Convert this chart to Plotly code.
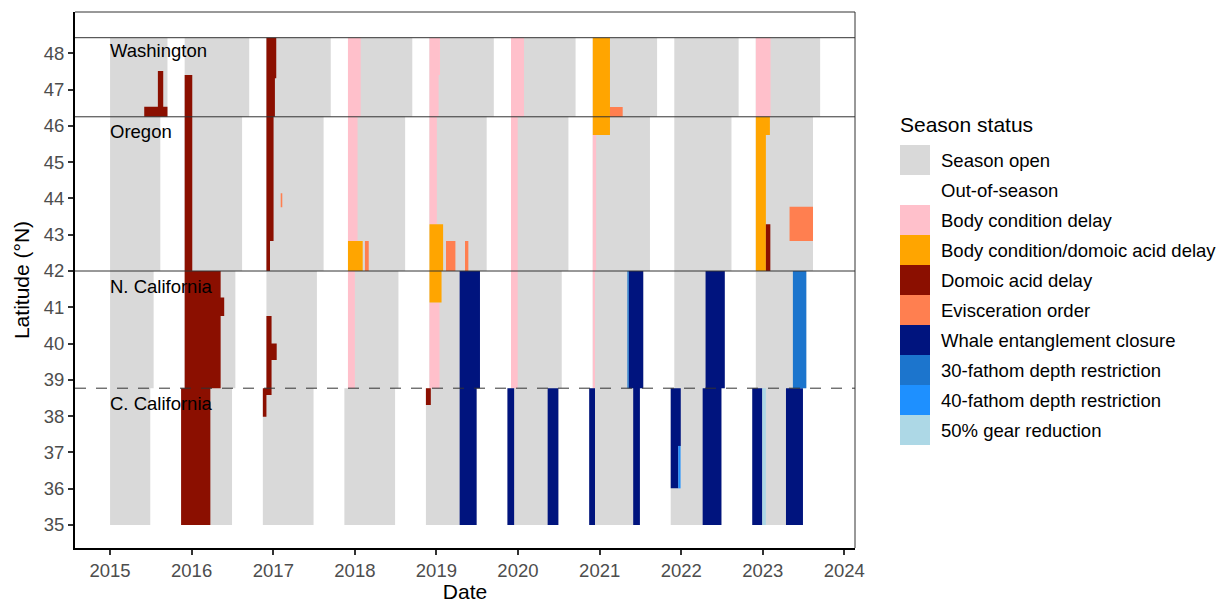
import plotly.graph_objects as go

FONT = "Liberation Sans, Arial, Helvetica, sans-serif"

# Management regions (latitude bounds, °N)
regions = ["Washington", "Oregon", "N. California", "C. California"]
region_lat_lo = [46.25, 42.0, 38.77, 35.0]
region_lat_hi = [48.43, 46.25, 42.0, 38.77]
region_label_lat = [48.09, 45.84, 41.58, 38.36]

# Open-season windows for each region
wa_open_start = ["2015-01-01", "2015-12-01", "2016-12-01", "2017-12-01", "2018-12-01",
                 "2019-12-01", "2020-12-01", "2021-12-01", "2022-12-01"]
wa_open_end = ["2015-09-15", "2016-09-15", "2017-09-15", "2018-09-15", "2019-09-15",
               "2020-09-15", "2021-09-15", "2022-09-15", "2023-09-15"]
or_open_start = ["2015-01-01", "2015-12-01", "2016-12-01", "2017-12-01", "2018-12-01",
                 "2019-12-01", "2020-12-01", "2021-12-01", "2022-12-01"]
or_open_end = ["2015-08-14", "2016-08-14", "2017-08-14", "2018-08-14", "2019-08-14",
               "2020-08-14", "2021-08-14", "2022-08-14", "2023-08-14"]
nca_open_start = ["2015-01-01", "2015-12-01", "2016-12-01", "2017-12-01", "2018-12-01",
                  "2019-12-01", "2020-12-01", "2021-12-01", "2022-12-01"]
nca_open_end = ["2015-07-15", "2016-07-15", "2017-07-15", "2018-07-15", "2019-07-15",
                "2020-07-15", "2021-07-15", "2022-07-15", "2023-07-15"]
cca_open_start = ["2015-01-01", "2015-11-15", "2016-11-15", "2017-11-15", "2018-11-15",
                  "2019-11-15", "2020-11-15", "2021-11-15", "2022-11-15"]
cca_open_end = ["2015-06-30", "2016-06-30", "2017-06-30", "2018-06-30", "2019-06-30",
                "2020-06-30", "2021-06-30", "2022-06-30", "2023-06-30"]

# Delays, closures and restrictions: status, start, end, southern and northern latitude
DA = "Domoic acid delay"
BC = "Body condition delay"
BCDA = "Body condition/domoic acid delay"
EV = "Evisceration order"
WH = "Whale entanglement closure"
F30 = "30-fathom depth restriction"
F40 = "40-fathom depth restriction"
G50 = "50% gear reduction"

closure_status = [
    # Washington
    DA, DA, DA, DA, DA, BC, BC, BC, BC, BCDA, EV, BC,
    # Oregon
    DA, DA, DA, EV, BC, BCDA, EV, BC, BCDA, EV, EV, BC, BC, BCDA, BCDA, DA, EV,
    # Northern California
    DA, DA, DA, DA, BC, BCDA, BC, WH, BC, BC, F30, WH, WH, F30,
    # Central California
    DA, DA, DA, DA, WH, WH, WH, WH, WH, WH, WH, F40, WH, WH, G50, WH,
]
closure_start = [
    "2015-06-03", "2015-08-03", "2015-12-01", "2016-12-01", "2016-12-01", "2017-12-01",
    "2018-12-01", "2018-12-01", "2019-12-01", "2020-12-01", "2021-02-16", "2022-12-01",
    "2015-12-01", "2016-12-01", "2016-12-01", "2017-02-03", "2017-12-01", "2017-12-01",
    "2018-02-15", "2018-12-01", "2018-12-01", "2019-02-13", "2019-05-09", "2019-12-01",
    "2020-12-01", "2022-12-01", "2022-12-01", "2023-01-15", "2023-05-01",
    "2015-12-01", "2015-12-01", "2016-12-01", "2016-12-01", "2017-12-01", "2018-12-01",
    "2018-12-01", "2019-04-15", "2019-12-01", "2020-12-01", "2021-05-05", "2021-05-11",
    "2022-04-20", "2023-05-16",
    "2015-11-15", "2016-11-15", "2016-11-15", "2018-11-15", "2019-04-15", "2019-11-15",
    "2020-05-13", "2020-11-15", "2021-05-31", "2021-11-15", "2021-11-15", "2021-12-19",
    "2022-04-07", "2022-11-15", "2022-12-30", "2023-04-15",
]
closure_end = [
    "2015-09-15", "2015-08-27", "2016-01-04", "2017-01-14", "2017-01-08", "2018-01-27",
    "2019-01-17", "2019-01-11", "2020-01-28", "2021-02-16", "2021-04-14", "2023-02-05",
    "2016-01-04", "2017-01-02", "2016-12-17", "2017-02-10", "2018-01-13", "2018-02-05",
    "2018-03-04", "2019-01-03", "2019-01-31", "2019-03-27", "2019-05-24", "2019-12-31",
    "2020-12-16", "2023-02-02", "2023-01-15", "2023-02-04", "2023-08-14",
    "2016-05-10", "2016-05-26", "2016-12-24", "2017-01-16", "2018-01-01", "2019-01-24",
    "2019-01-15", "2019-07-15", "2019-12-31", "2020-12-11", "2021-05-11", "2021-07-15",
    "2022-07-15", "2023-07-15",
    "2016-03-25", "2016-12-24", "2016-12-01", "2018-12-07", "2019-06-30", "2019-12-15",
    "2020-06-30", "2020-12-11", "2021-06-30", "2021-12-30", "2021-12-19", "2021-12-29",
    "2022-06-30", "2022-12-30", "2023-01-15", "2023-06-30",
]
closure_lat_lo = [
    46.25, 46.25, 46.25, 47.31, 46.25, 46.25, 47.40, 46.25, 46.25, 45.75, 46.25, 46.25,
    42.00, 42.83, 42.00, 43.76, 42.83, 42.00, 42.00, 43.29, 42.00, 42.00, 42.00, 42.00,
    42.00, 45.75, 42.00, 42.00, 42.83,
    38.77, 40.76, 38.77, 39.55, 38.77, 41.13, 38.77, 38.77, 38.77, 38.77, 38.77, 38.77,
    38.77, 38.77,
    35.00, 38.58, 37.98, 38.31, 35.00, 35.00, 35.00, 35.00, 35.00, 37.18, 36.01, 36.01,
    35.00, 35.00, 35.00, 35.00,
]
closure_lat_hi = [
    46.53, 47.51, 47.40, 48.43, 47.31, 48.43, 48.43, 47.40, 48.43, 48.43, 46.52, 48.43,
    46.25, 46.25, 42.83, 44.14, 46.25, 42.83, 42.83, 46.25, 43.29, 42.83, 42.83, 46.25,
    45.75, 46.25, 45.75, 43.29, 43.77,
    42.00, 41.27, 40.76, 40.00, 42.00, 42.00, 41.13, 42.00, 42.00, 42.00, 42.00, 42.00,
    42.00, 42.00,
    38.77, 38.77, 38.58, 38.77, 38.77, 38.77, 38.77, 38.77, 38.77, 38.77, 37.18, 37.18,
    38.77, 38.77, 38.77, 38.77,
]

# Legend entries and fill colours
legend_labels = ["Season open", "Out-of-season", BC, BCDA, DA, EV, WH, F30, F40, G50]
legend_colors = ["#D9D9D9", "#FFFFFF", "#FFC0CB", "#FFA500", "#8B0F00", "#FF7F50",
                 "#00147E", "#1C75CD", "#1E90FF", "#ADD8E6"]
status_color = dict(zip(legend_labels, legend_colors))


def rect_path(starts, ends, lows, highs):
    xs, ys = [], []
    for s, e, lo, hi in zip(starts, ends, lows, highs):
        xs += [s, e, e, s, s, None]
        ys += [lo, lo, hi, hi, lo, None]
    return xs, ys


fig = go.Figure()

# Open-season background per region
open_sets = [(wa_open_start, wa_open_end), (or_open_start, or_open_end),
             (nca_open_start, nca_open_end), (cca_open_start, cca_open_end)]
ox, oy = [], []
for (starts, ends), lo, hi in zip(open_sets, region_lat_lo, region_lat_hi):
    xs, ys = rect_path(starts, ends, [lo] * len(starts), [hi] * len(starts))
    ox += xs
    oy += ys
fig.add_trace(go.Scatter(x=ox, y=oy, mode="lines", fill="toself",
                         fillcolor=status_color["Season open"], line=dict(width=0),
                         hoverinfo="skip", showlegend=False))

# Status overlays, one trace per status
for status in [BC, BCDA, DA, EV, WH, F30, F40, G50]:
    idx = [i for i, s in enumerate(closure_status) if s == status]
    xs, ys = rect_path([closure_start[i] for i in idx], [closure_end[i] for i in idx],
                       [closure_lat_lo[i] for i in idx], [closure_lat_hi[i] for i in idx])
    fig.add_trace(go.Scatter(x=xs, y=ys, mode="lines", fill="toself",
                             fillcolor=status_color[status], line=dict(width=0),
                             hoverinfo="skip", showlegend=False, name=status))

shapes = []
# Region boundaries
for lat in region_lat_hi[:3]:
    shapes.append(dict(type="line", xref="paper", x0=0, x1=1, yref="y", y0=lat, y1=lat,
                       line=dict(color="#333333", width=1)))
shapes.append(dict(type="line", xref="paper", x0=0, x1=1, yref="y",
                   y0=region_lat_hi[3], y1=region_lat_hi[3],
                   line=dict(color="#333333", width=1, dash="11px,10px")))
# Panel border (top and right)
shapes.append(dict(type="line", xref="paper", yref="paper", x0=0, x1=1, y0=1, y1=1,
                   line=dict(color="#333333", width=1)))
shapes.append(dict(type="line", xref="paper", yref="paper", x0=1, x1=1, y0=0, y1=1,
                   line=dict(color="#333333", width=1)))

annotations = []
for name, lat in zip(regions, region_label_lat):
    annotations.append(dict(x="2015-01-01", y=lat, xref="x", yref="y", text=name,
                            showarrow=False, xanchor="left", yanchor="middle",
                            xshift=-2, font=dict(family=FONT, size=18.5, color="#000000")))

# Legend drawn in paper space to the right of the panel
L, T, W, H = 75, 12, 780, 536


def px_x(px):
    return (px - L) / W


def px_y(py):
    return (T + H - py) / H


annotations.append(dict(x=px_x(898), y=px_y(125), xref="paper", yref="paper",
                        text="Season status", showarrow=False, xanchor="left",
                        yanchor="middle", font=dict(family=FONT, size=21, color="#000000")))
for i, (lab, col) in enumerate(zip(legend_labels, legend_colors)):
    top = 145 + 30 * i
    shapes.append(dict(type="rect", xref="paper", yref="paper", x0=px_x(900), x1=px_x(930),
                       y0=px_y(top + 30), y1=px_y(top), fillcolor=col, line=dict(width=0)))
    annotations.append(dict(x=px_x(939), y=px_y(top + 15), xref="paper", yref="paper",
                            text=lab, showarrow=False, xanchor="left", yanchor="middle",
                            font=dict(family=FONT, size=18.5, color="#000000")))

fig.update_layout(
    width=1220, height=603,
    margin=dict(l=L, r=1220 - L - W, t=T, b=603 - T - H, autoexpand=False),
    paper_bgcolor="white", plot_bgcolor="white",
    shapes=shapes, annotations=annotations,
    font=dict(family=FONT),
    showlegend=False,
)
fig.update_xaxes(
    type="date", range=["2014-07-28", "2024-02-18"], automargin=False,
    tickvals=[f"{y}-01-01" for y in range(2015, 2025)],
    ticktext=[str(y) for y in range(2015, 2025)],
    showgrid=False, zeroline=False,
    showline=True, linecolor="#000000", linewidth=2,
    ticks="outside", ticklen=5, tickwidth=2, tickcolor="#333333",
    tickfont=dict(family=FONT, size=18.5, color="#4D4D4D"),
    title=dict(text="Date", font=dict(family=FONT, size=21, color="#000000"), standoff=6),
)
fig.update_yaxes(
    range=[34.366, 49.138], automargin=False,
    tickvals=list(range(35, 49)),
    showgrid=False, zeroline=False,
    showline=True, linecolor="#000000", linewidth=2,
    ticks="outside", ticklen=5, tickwidth=2, tickcolor="#333333",
    tickfont=dict(family=FONT, size=18.5, color="#4D4D4D"),
    title=dict(text="Latitude (°N)", font=dict(family=FONT, size=21, color="#000000"),
               standoff=8),
)

fig.write_html("out.html")
